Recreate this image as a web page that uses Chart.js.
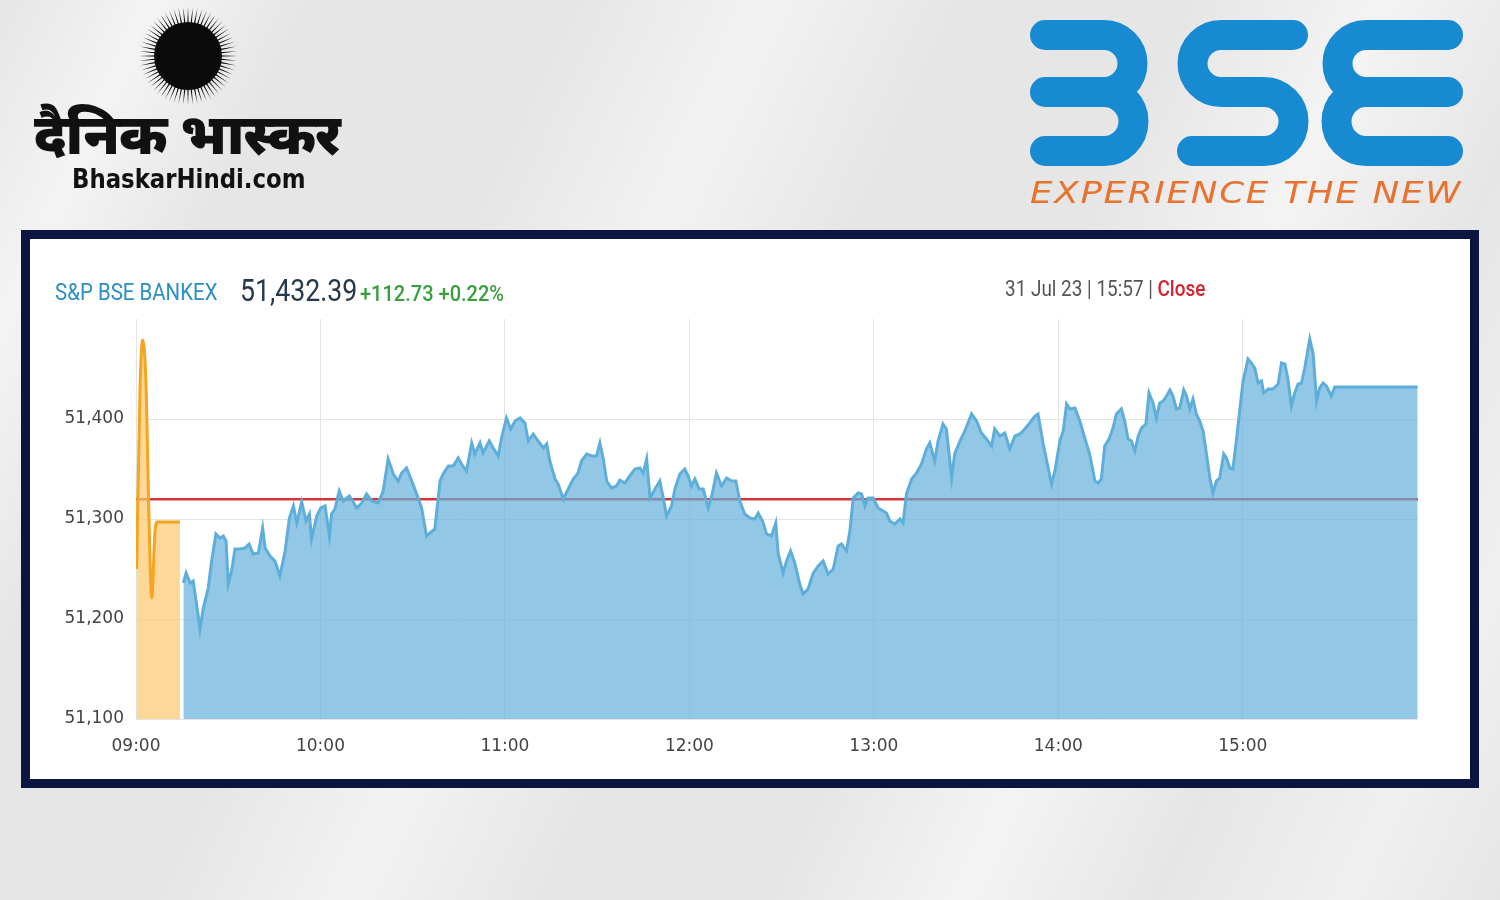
<!DOCTYPE html>
<html>
<head>
<meta charset="utf-8">
<script src="https://cdn.jsdelivr.net/npm/chart.js@4/dist/chart.umd.min.js"></script>
<style>
  html, body { margin: 0; padding: 0; }
  body {
    width: 1500px; height: 900px; position: relative; overflow: hidden;
    background:
      linear-gradient(115deg, rgba(255,255,255,0) 0%, rgba(255,255,255,0.55) 8%, rgba(255,255,255,0) 16%,
        rgba(255,255,255,0) 30%, rgba(255,255,255,0.5) 40%, rgba(255,255,255,0) 50%,
        rgba(255,255,255,0) 62%, rgba(255,255,255,0.55) 72%, rgba(255,255,255,0) 82%,
        rgba(255,255,255,0.4) 92%, rgba(255,255,255,0) 100%),
      #e6e6e6;
    font-family: Roboto, sans-serif;
  }
  #logos { position: absolute; left: 0; top: 0; }
  .hindi {
    position: absolute; left: 34px; top: 104px; font-size: 56px; font-weight: 900;
    font-family: "Noto Sans Devanagari", "Noto Sans", sans-serif; color: #111; letter-spacing: -1px;
  }
  .site {
    position: absolute; left: 72px; top: 163px; font-size: 27px; font-weight: bold;
    font-family: "DejaVu Sans Condensed", "DejaVu Sans", sans-serif; color: #111;
    transform: scaleX(0.94); transform-origin: left;
  }
  .tagline {
    position: absolute; left: 1030px; top: 174px; font-size: 31px; font-style: italic;
    font-family: "DejaVu Sans", sans-serif; color: #e8722e; letter-spacing: 1.5px;
    transform: scaleX(1.15); transform-origin: left;
  }
  #frame {
    position: absolute; left: 21px; top: 230px; width: 1440px; height: 540px;
    border: 9px solid #0a1541; background: #fff;
  }
  #chart { position: absolute; left: 0; top: 0; }
  .hdr { position: absolute; white-space: nowrap; transform-origin: left; }
  .idx { left: 25px; top: 40px; font-size: 23px; color: #2b8ec5; transform: scaleX(0.89); }
  .val { left: 210px; top: 33px; font-size: 31px; color: #26394d; transform: scaleX(0.86); }
  .chg { left: 330px; top: 42px; font-size: 22px; color: #36a03a; font-weight: 500; transform: scaleX(0.91); }
  .when { left: 975px; top: 37px; font-size: 22px; color: #555; transform: scaleX(0.86); }
  .when b { color: #d5232f; font-weight: 500; }
</style>
</head>
<body>
<canvas id="logos" width="1500" height="230"></canvas>
<div class="hindi">दैनिक भास्कर</div>
<div class="site">BhaskarHindi.com</div>
<div class="tagline">EXPERIENCE THE NEW</div>

<div id="frame">
  <canvas id="chart" width="1440" height="540"></canvas>
  <div class="hdr idx">S&amp;P BSE BANKEX</div>
  <div class="hdr val">51,432.39</div>
  <div class="hdr chg">+112.73 +0.22%</div>
  <div class="hdr when">31 Jul 23 | 15:57 | <b>Close</b></div>
</div>

<script>
// minutes after 09:00
const preOpenMin = [0.2, 1.3, 2.2, 3.3, 4.0, 5.1, 6.2, 6.9, 14.3];
const preOpenVal = [51250, 51430, 51479, 51431, 51331, 51221, 51288, 51297, 51297];

const tradeMin = [
  15.4, 16.3, 17.6, 18.6, 19.7, 20.8, 21.9, 23.5, 24.6, 26.0, 27.3, 28.4, 29.3, 30.0, 31.1, 32.2,
  33.8, 35.4, 36.8, 38.1, 39.8, 41.2, 42.0, 43.6, 45.2, 46.8, 48.5, 49.9, 51.2, 52.3, 53.9, 55.3,
  56.4, 57.1, 58.8, 60.1, 61.5, 62.9, 63.6, 64.7, 66.1, 67.4, 69.4, 70.5, 71.8, 73.4, 75.0, 76.7,
  78.8, 80.4, 82.0, 83.7, 85.3, 86.4, 88.0, 89.7, 91.3, 92.9, 94.5, 95.6, 97.2, 98.9, 99.9, 101.6,
  103.2, 104.8, 105.9, 107.5, 109.2, 110.2, 111.9, 112.9, 114.9, 116.2, 117.8, 118.9, 120.5, 121.9,
  123.3, 124.9, 126.5, 127.6, 129.2, 130.8, 132.5, 133.6, 134.6, 136.3, 137.3, 139.0, 140.6, 142.2,
  143.8, 144.9, 146.6, 148.2, 149.8, 150.9, 152.0, 153.1, 154.7, 156.3, 157.4, 159.0, 160.6, 162.3,
  163.9, 165.0, 166.1, 167.2, 168.8, 170.4, 171.5, 172.6, 174.2, 175.3, 176.9, 178.5, 179.6, 180.7,
  181.8, 183.2, 184.5, 186.1, 187.5, 188.8, 190.5, 192.1, 193.7, 195.1, 196.4, 198.0, 199.7, 201.3,
  202.4, 203.8, 205.1, 206.7, 208.1, 208.9, 210.5, 211.6, 212.9, 214.3, 215.9, 217.0, 218.6, 220.3,
  221.9, 223.5, 225.1, 226.8, 228.4, 229.5, 231.1, 232.2, 233.3, 234.9, 236.0, 237.1, 238.1, 239.8,
  241.4, 243.0, 244.1, 245.2, 246.8, 248.5, 249.5, 250.6, 252.3, 253.9, 255.5, 257.1, 258.2, 259.8,
  260.9, 262.5, 263.6, 265.3, 266.3, 268.0, 269.6, 271.8, 273.4, 275.0, 276.6, 278.3, 279.3, 281.0,
  282.6, 284.2, 285.9, 287.5, 289.1, 290.7, 292.4, 293.4, 295.1, 296.7, 297.8, 298.9, 300.5, 301.6,
  302.7, 303.8, 305.4, 307.0, 308.6, 310.2, 311.9, 313.0, 314.0, 315.1, 316.5, 317.8, 318.9, 320.5,
  321.6, 322.7, 323.8, 324.9, 326.0, 327.1, 328.5, 329.5, 330.8, 331.9, 333.0, 334.1, 335.2, 336.3,
  337.3, 338.4, 339.5, 340.8, 341.7, 342.8, 343.8, 344.9, 346.0, 347.1, 348.2, 349.3, 350.3, 351.4,
  352.5, 353.8, 354.7, 355.8, 356.8, 357.9, 359.0, 360.1, 361.7, 362.8, 363.9, 365.0, 366.1, 366.8,
  368.2, 369.8, 371.5, 372.6, 373.7, 374.7, 375.8, 376.9, 378.0, 379.1, 380.1, 381.8, 382.9, 384.0,
  385.0, 386.1, 387.2, 388.8, 389.9, 416.9
];
const tradeVal = [
  51236, 51246, 51236, 51238, 51215, 51190, 51211, 51231, 51258, 51285, 51281, 51283, 51278, 51235, 51248, 51270,
  51270, 51271, 51275, 51265, 51266, 51291, 51271, 51263, 51258, 51243, 51268, 51301, 51313, 51296, 51317, 51298,
  51305, 51280, 51303, 51311, 51313, 51283, 51305, 51310, 51328, 51318, 51323, 51318, 51311, 51316, 51325, 51318,
  51316, 51328, 51360, 51345, 51338, 51346, 51351, 51338, 51325, 51311, 51283, 51286, 51290, 51338, 51345, 51353,
  51353, 51361, 51355, 51348, 51376, 51365, 51376, 51366, 51378, 51371, 51363, 51381, 51401, 51390,
  51398, 51401, 51396, 51378, 51385, 51378, 51371, 51375, 51358, 51340, 51335, 51320, 51330, 51340,
  51346, 51358, 51365, 51363, 51363, 51376, 51360, 51338, 51331, 51333, 51339, 51336, 51343, 51350,
  51351, 51346, 51360, 51321, 51330, 51338, 51321, 51303, 51313, 51330, 51345, 51350, 51343, 51333,
  51340, 51330, 51330, 51311, 51326, 51346, 51333, 51341, 51338, 51338, 51318, 51305, 51301, 51300,
  51306, 51298, 51285, 51283, 51296, 51265, 51246, 51258, 51268, 51256, 51235, 51225, 51230, 51246,
  51253, 51258, 51245, 51250, 51273, 51275, 51268, 51288, 51321, 51326, 51325, 51313, 51321, 51321,
  51311, 51308, 51306, 51298, 51295, 51300, 51296, 51325, 51340, 51346, 51355, 51370, 51376, 51358,
  51378, 51395, 51390, 51341, 51365, 51378, 51388, 51405, 51398, 51386, 51380, 51373, 51390, 51383,
  51386, 51370, 51383, 51385, 51390, 51396, 51403, 51405, 51375, 51351, 51335, 51348, 51378, 51388,
  51415, 51410, 51411, 51398, 51381, 51365, 51338, 51336, 51340, 51373, 51380, 51391, 51405, 51410,
  51398, 51380, 51378, 51368, 51383, 51391, 51395, 51426, 51416, 51401, 51416, 51418, 51423, 51429,
  51423, 51410, 51411, 51429, 51423, 51410, 51420, 51405, 51398, 51388, 51365, 51341, 51326, 51338,
  51341, 51365, 51361, 51351, 51350, 51378, 51408, 51438, 51460, 51456, 51451, 51436, 51438, 51426,
  51430, 51430, 51435, 51456, 51455, 51440, 51413, 51426, 51435, 51436, 51450, 51480, 51465, 51418,
  51431, 51436, 51433, 51423, 51432, 51432
];

const prevClose = 51319.66;
const sessionEnd = 417;       // 15:57
const hourTicks = [0, 60, 120, 180, 240, 300, 360];   // 09:00 .. 15:00
const yMin = 51100, yMax = 51500, yStep = 100;

function hhmm(v) {
  const m = Math.round(v);
  const h = 9 + Math.floor(m / 60), mm = m % 60;
  return String(h).padStart(2, "0") + ":" + String(mm).padStart(2, "0");
}

// ---- logos (plain canvas, not chart data) ----
const lg = document.getElementById("logos").getContext("2d");
(function drawSun(cx, cy) {
  lg.fillStyle = "#0b0b0b";
  const rays = 64;
  for (let i = 0; i < rays; i++) {
    const a = (i / rays) * Math.PI * 2, w = Math.PI / rays * 0.55;
    lg.beginPath();
    lg.moveTo(cx + Math.cos(a - w) * 30, cy + Math.sin(a - w) * 30);
    lg.lineTo(cx + Math.cos(a) * 49, cy + Math.sin(a) * 49);
    lg.lineTo(cx + Math.cos(a + w) * 30, cy + Math.sin(a + w) * 30);
    lg.fill();
  }
  lg.beginPath();
  lg.arc(cx, cy, 34, 0, Math.PI * 2);
  lg.fill();
})(188, 56);

(function drawBSE() {
  lg.strokeStyle = "#178ad1";
  lg.lineWidth = 30;
  lg.lineCap = "round";
  const t = 35, m = 92, b = 151, r1 = (m - t) / 2, r2 = (b - m) / 2;
  // 3
  lg.beginPath();
  lg.moveTo(1045, t); lg.lineTo(1104, t);
  lg.arc(1104, t + r1, r1, -Math.PI / 2, Math.PI / 2);
  lg.lineTo(1045, m);
  lg.moveTo(1104, m);
  lg.arc(1104, m + r2, r2, -Math.PI / 2, Math.PI / 2);
  lg.lineTo(1045, b);
  lg.stroke();
  // S
  lg.beginPath();
  lg.moveTo(1293, t); lg.lineTo(1221, t);
  lg.arc(1221, t + r1, r1, -Math.PI / 2, Math.PI / 2, true);
  lg.lineTo(1264, m);
  lg.arc(1264, m + r2, r2, -Math.PI / 2, Math.PI / 2);
  lg.lineTo(1192, b);
  lg.stroke();
  // E
  lg.beginPath();
  lg.moveTo(1448, t); lg.lineTo(1366, t);
  lg.arc(1366, t + r1, r1, -Math.PI / 2, Math.PI / 2, true);
  lg.lineTo(1448, m);
  lg.moveTo(1366, m);
  lg.arc(1366, m + r2, r2, -Math.PI / 2, Math.PI / 2, true);
  lg.lineTo(1448, b);
  lg.stroke();
})();

// ---- chart ----
const ctx = document.getElementById("chart").getContext("2d");
new Chart(ctx, {
  type: "line",
  data: {
    datasets: [
      {
        label: "Pre-open",
        data: preOpenMin.map((m, i) => ({ x: m, y: preOpenVal[i] })),
        borderColor: "#f5a51f",
        backgroundColor: "rgba(252,200,110,0.7)",
        borderWidth: 3,
        fill: "start",
        pointRadius: 0,
        cubicInterpolationMode: "monotone",
        order: 1,
      },
      {
        label: "BANKEX",
        data: tradeMin.map((m, i) => ({ x: m, y: tradeVal[i] })),
        borderColor: "#5eaedb",
        backgroundColor: "rgba(100,176,218,0.7)",
        borderWidth: 3,
        fill: "start",
        pointRadius: 0,
        tension: 0,
        order: 2,
      },
      {
        label: "Previous close",
        data: [{ x: 0, y: prevClose }, { x: sessionEnd, y: prevClose }],
        borderColor: "#d8353a",
        borderWidth: 2.5,
        fill: false,
        pointRadius: 0,
        order: 5,
      },
    ],
  },
  options: {
    responsive: false,
    animation: false,
    maintainAspectRatio: false,
    layout: { padding: { top: 80, right: 52, left: 0, bottom: 0 } },
    plugins: { legend: { display: false }, tooltip: { enabled: false } },
    scales: {
      x: {
        type: "linear",
        min: 0,
        max: sessionEnd,
        afterBuildTicks: (s) => { s.ticks = hourTicks.map((v) => ({ value: v })); },
        afterFit: (s) => { s.height = 60; },
        border: { display: false },
        grid: { color: "#e4e4e4", drawTicks: false },
        ticks: {
          autoSkip: false,
          padding: 17,
          color: "#444",
          font: { family: "DejaVu Sans", size: 17 },
          maxRotation: 0,
          callback: (v) => hhmm(v),
        },
      },
      y: {
        min: yMin,
        max: yMax,
        afterFit: (s) => { s.width = 106; },
        border: { display: false },
        grid: {
          drawTicks: false,
          color: (c) => (c.tick && c.tick.value === yMax ? "rgba(0,0,0,0)" : "#e4e4e4"),
        },
        ticks: {
          stepSize: yStep,
          padding: 12,
          color: "#444",
          font: { family: "DejaVu Sans", size: 17 },
          callback: (v) => (v === yMax ? "" : v.toLocaleString("en-US")),
        },
      },
    },
  },
});
</script>
</body>
</html>
